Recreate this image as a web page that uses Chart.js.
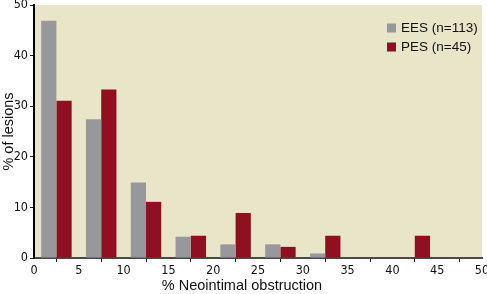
<!DOCTYPE html>
<html>
<head>
<meta charset="utf-8">
<script src="https://cdn.jsdelivr.net/npm/chart.js@4.4.1/dist/chart.umd.min.js"></script>
<style>
  html, body { margin: 0; padding: 0; background: #ffffff; }
  #wrap { width: 487px; height: 294px; position: relative; }
</style>
</head>
<body>
<div id="wrap"><canvas id="c" width="487" height="294"></canvas></div>
<script>
// Bin centres (% neointimal obstruction, bins of 5)
const binCenters = [2.5, 7.5, 12.5, 17.5, 22.5, 27.5, 32.5, 37.5, 42.5, 47.5];
const eesValues = [46.9, 27.4, 14.9, 4.2, 2.7, 2.7, 0.9, 0, 0, 0];
const pesValues = [31.1, 33.3, 11.1, 4.4, 8.9, 2.2, 4.4, 0, 4.4, 0];
const seriesLabels = ['EES (n=113)', 'PES (n=45)'];
const xTicks = [0, 5, 10, 15, 20, 25, 30, 35, 40, 45, 50];
const yTicks = [0, 10, 20, 30, 40, 50];
const xTitle = '% Neointimal obstruction';
const yTitle = '% of lesions';

const GRAY = '#97989c';
const RED = '#8f1121';
const BEIGE = '#e9e5c9';
const tickFont = { family: '"Liberation Sans Narrow", "DejaVu Sans Condensed", sans-serif', size: 12.5 };
const titleFontFamily = '"Liberation Sans", Arial, sans-serif';

const bgPlugin = {
  id: 'plotBg',
  beforeDraw(chart) {
    const { ctx, chartArea: a } = chart;
    ctx.save();
    ctx.fillStyle = BEIGE;
    ctx.fillRect(a.left, a.top, a.right - a.left, a.bottom - a.top);
    ctx.restore();
  }
};

const legendPlugin = {
  id: 'innerLegend',
  afterDraw(chart) {
    const { ctx } = chart;
    ctx.save();
    ctx.font = '13.5px ' + titleFontFamily;
    ctx.textBaseline = 'middle';
    chart.data.datasets.forEach((ds, i) => {
      const y = 28 + i * 19;
      ctx.fillStyle = ds.backgroundColor;
      ctx.fillRect(387, y - 4.5, 9, 9);
      ctx.fillStyle = '#111';
      ctx.fillText(ds.label, 401, y);
    });
    ctx.restore();
  }
};

const xTitlePlugin = {
  id: 'xTitle',
  afterDraw(chart) {
    const { ctx } = chart;
    ctx.save();
    ctx.font = '14.5px ' + titleFontFamily;
    ctx.fillStyle = '#111';
    ctx.textAlign = 'center';
    ctx.textBaseline = 'alphabetic';
    ctx.fillText(xTitle, 242, 290);
    ctx.restore();
  }
};

new Chart(document.getElementById('c'), {
  type: 'bar',
  data: {
    datasets: [
      {
        label: seriesLabels[0],
        data: binCenters.map((x, i) => ({ x, y: eesValues[i] })),
        backgroundColor: GRAY,
        borderWidth: 0
      },
      {
        label: seriesLabels[1],
        data: binCenters.map((x, i) => ({ x, y: pesValues[i] })),
        backgroundColor: RED,
        borderWidth: 0
      }
    ]
  },
  options: {
    responsive: false,
    animation: false,
    devicePixelRatio: 1,
    layout: { padding: { left: 0, right: 5, top: 5, bottom: 0 } },
    datasets: { bar: { categoryPercentage: 0.68, barPercentage: 1.0 } },
    plugins: {
      legend: { display: false },
      tooltip: { enabled: false }
    },
    scales: {
      x: {
        type: 'linear',
        min: 0,
        max: 50,
        offset: false,
        afterBuildTicks(scale) { scale.ticks = xTicks.map(v => ({ value: v })); },
        afterFit(scale) { scale.height = 36; scale.paddingLeft = 0; scale.paddingRight = 0; },
        ticks: { font: tickFont, color: '#111', padding: 1, maxRotation: 0, autoSkip: false },
        grid: { drawOnChartArea: false, drawTicks: true, tickLength: 4, color: '#222', lineWidth: 1 },
        border: { display: true, color: '#4a4a4a', width: 2 }
      },
      y: {
        min: 0,
        max: 50,
        afterBuildTicks(scale) { scale.ticks = yTicks.map(v => ({ value: v })); },
        afterFit(scale) { scale.width = 34; scale.paddingTop = 0; scale.paddingBottom = 0; },
        ticks: { font: tickFont, color: '#111', padding: 2 },
        grid: { drawOnChartArea: false, drawTicks: true, tickLength: 4, color: '#222', lineWidth: 1 },
        border: { display: true, color: '#000', width: 2 },
        title: {
          display: true,
          text: yTitle,
          font: { family: titleFontFamily, size: 14.5 },
          color: '#111',
          padding: { top: 0, bottom: 0 }
        }
      }
    }
  },
  plugins: [bgPlugin, legendPlugin, xTitlePlugin]
});
</script>
</body>
</html>
